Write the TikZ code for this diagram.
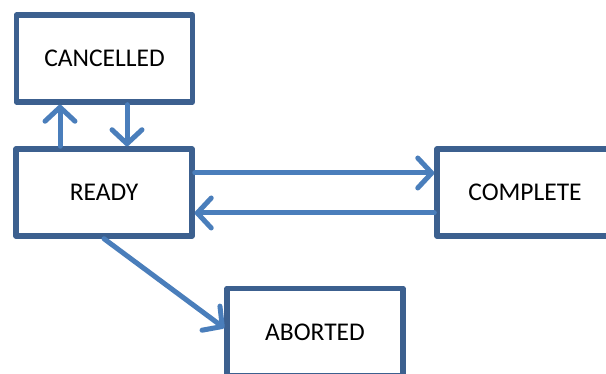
\documentclass[tikz,border=0pt]{standalone}
\usepackage{fontspec}
\setmainfont{Carlito}
\usepackage{tikz}
\usetikzlibrary{arrows.meta}

\definecolor{boxblue}{RGB}{60,96,143}
\definecolor{arrowblue}{RGB}{74,126,187}

\tikzset{
    state/.style={draw=boxblue,line width=5.5pt,line join=round,fill=white,
        minimum width=176pt,minimum height=87pt,inner sep=0pt,
        font=\fontsize{25.5}{30}\selectfont},
    trans/.style={draw=arrowblue,line width=5pt,line cap=round,
        -{Straight Barb[length=14pt,width=30pt,round]}}
}

\begin{document}
\begin{tikzpicture}[x=1pt,y=-1pt]
    \useasboundingbox (0,0) rectangle (606,374);
    \node[state] (cancelled) at (104.5,58.5) {CANCELLED};
    \node[state] (ready) at (104,192.5) {READY};
    \node[state] (complete) at (525,192.5) {COMPLETE};
    \node[state] (aborted) at (315,332) {ABORTED};
    \draw[trans] ([xshift=-44pt]ready.north) to ([xshift=-44.5pt]cancelled.south);
    \draw[trans] ([xshift=22.5pt]cancelled.south) to ([xshift=23pt]ready.north);
    \draw[trans] ([yshift=19.5pt]ready.east) to ([yshift=19.5pt]complete.west);
    \draw[trans] ([yshift=-20.5pt]complete.west) to ([yshift=-20.5pt]ready.east);
    \draw[trans] (ready.south) to ([yshift=4pt]aborted.west);
\end{tikzpicture}
\end{document}
